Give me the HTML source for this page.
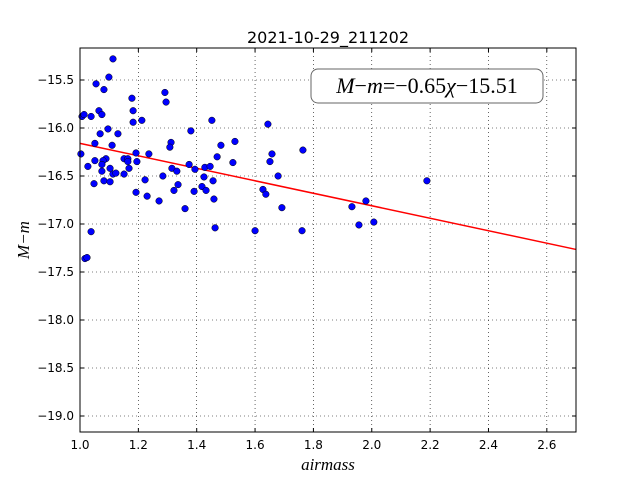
<!DOCTYPE html>
<html><head><meta charset="utf-8"><style>
body{margin:0;background:#fff;}
svg text{font-family:"DejaVu Sans","Liberation Sans",sans-serif;}
</style></head><body>
<svg id="chart" width="640" height="480" xmlns="http://www.w3.org/2000/svg">
<rect width="640" height="480" fill="#fff"/>
<g id="grid"></g>
<g id="line"></g>
<g id="pts"></g>
<rect x="80" y="48" width="496" height="384" fill="none" stroke="#000" stroke-width="1"/>
<g id="ticks"></g>
<text x="328" y="43" font-size="16" text-anchor="middle">2021-10-29_211202</text>
<text x="328" y="470" font-size="17" text-anchor="middle" style="font-family:'Liberation Serif',serif;font-style:italic">airmass</text>
<text transform="translate(29,240) rotate(-90)" font-size="17" text-anchor="middle" style="font-family:'Liberation Serif',serif;font-style:italic">M−m</text>
<g>
<rect x="311" y="69" width="232" height="34" rx="7" fill="#fff" stroke="#666" stroke-width="1"/>
<text x="427" y="93" font-size="22" text-anchor="middle" style="font-family:'Liberation Serif',serif"><tspan font-style="italic">M</tspan>−<tspan font-style="italic">m</tspan>=−0.65<tspan font-style="italic">χ</tspan>−15.51</text>
</g>
</svg>
<script>
const xTicks=[1.0,1.2,1.4,1.6,1.8,2.0,2.2,2.4,2.6];
const yTicks=[-15.5,-16.0,-16.5,-17.0,-17.5,-18.0,-18.5,-19.0];
const slope=-0.65, intercept=-15.51;
const airmass=[1.113,1.099,1.055,1.082,1.007,1.014,1.038,1.065,1.075,1.178,1.182,1.182,1.212,1.291,1.295,1.096,1.069,1.130,1.051,1.110,1.003,1.089,1.051,1.079,1.075,1.027,1.075,1.103,1.151,1.164,1.164,1.192,1.195,1.168,1.236,1.113,1.123,1.151,1.048,1.082,1.103,1.223,1.192,1.230,1.271,1.284,1.312,1.308,1.315,1.332,1.322,1.336,1.360,1.380,1.374,1.394,1.425,1.428,1.446,1.452,1.470,1.483,1.531,1.524,1.418,1.432,1.456,1.391,1.459,1.463,1.600,1.038,1.017,1.024,1.644,1.658,1.651,1.764,1.679,1.627,1.637,1.692,1.932,1.980,1.956,2.007,1.761,2.189];
const mag=[-15.28,-15.47,-15.54,-15.60,-15.88,-15.86,-15.88,-15.82,-15.86,-15.69,-15.82,-15.94,-15.92,-15.63,-15.73,-16.01,-16.06,-16.06,-16.16,-16.18,-16.27,-16.32,-16.34,-16.34,-16.38,-16.40,-16.45,-16.42,-16.32,-16.32,-16.35,-16.26,-16.35,-16.42,-16.27,-16.48,-16.47,-16.48,-16.58,-16.55,-16.56,-16.54,-16.67,-16.71,-16.76,-16.50,-16.15,-16.20,-16.42,-16.45,-16.65,-16.59,-16.84,-16.03,-16.38,-16.43,-16.51,-16.41,-16.40,-15.92,-16.30,-16.18,-16.14,-16.36,-16.61,-16.65,-16.55,-16.66,-16.74,-17.04,-17.07,-17.08,-17.36,-17.35,-15.96,-16.27,-16.35,-16.23,-16.50,-16.64,-16.69,-16.83,-16.82,-16.76,-17.01,-16.98,-17.07,-16.55];
const X0=80,X1=576,Y0=48,Y1=432,xmin=1.0,xmax=2.7,ymax=-15.1667,ymin=-19.1667;
const sx=v=>X0+(v-xmin)/(xmax-xmin)*(X1-X0);
const sy=v=>Y0+(ymax-v)/(ymax-ymin)*(Y1-Y0);
const NS='http://www.w3.org/2000/svg';
function mk(t,a,p){const e=document.createElementNS(NS,t);for(const k in a)e.setAttribute(k,a[k]);p.appendChild(e);return e;}
const grid=document.getElementById('grid'),ticks=document.getElementById('ticks');
xTicks.forEach(t=>{const x=sx(t);
const g=mk('line',{x1:x,x2:x,y1:Y0,y2:Y1,stroke:'#000','stroke-width':0.6,'stroke-dasharray':'1,3'},grid);


mk('line',{x1:x,x2:x,y1:Y1,y2:Y1-4,stroke:'#000'},ticks);
mk('line',{x1:x,x2:x,y1:Y0,y2:Y0+4,stroke:'#000'},ticks);
const l=mk('text',{x:x,y:Y1+17,'font-size':12,'text-anchor':'middle'},ticks);l.textContent=t.toFixed(1);

});
yTicks.forEach(t=>{const y=sy(t);
const g=mk('line',{x1:X0,x2:X1,y1:y,y2:y,stroke:'#000','stroke-width':0.6,'stroke-dasharray':'1,3'},grid);


mk('line',{x1:X0,x2:X0+4,y1:y,y2:y,stroke:'#000'},ticks);
mk('line',{x1:X1,x2:X1-4,y1:y,y2:y,stroke:'#000'},ticks);
const l=mk('text',{x:X0-6,y:y+4,'font-size':12,'text-anchor':'end'},ticks);l.textContent=(t<0?'−':'')+Math.abs(t).toFixed(1);

});
const ln=mk('line',{x1:sx(xmin),y1:sy(slope*xmin+intercept),x2:sx(xmax),y2:sy(slope*xmax+intercept),stroke:'#f00','stroke-width':1.5},document.getElementById('line'));


const pts=document.getElementById('pts');
airmass.forEach((a,i)=>{const c=mk('circle',{cx:sx(a),cy:sy(mag[i]),r:3.3,fill:'#0000ff',stroke:'#000','stroke-width':0.5},pts);

});
</script>
</body></html>
